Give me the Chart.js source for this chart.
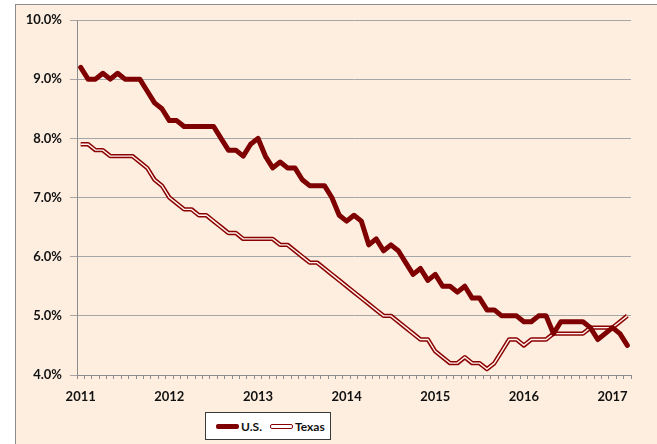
<!DOCTYPE html>
<html>
<head>
<meta charset="utf-8">
<script src="https://cdn.jsdelivr.net/npm/chart.js@4.4.0/dist/chart.umd.min.js"></script>
<style>
  body { margin: 0; background: #fff; }
  #frame {
    position: absolute; left: 15px; top: 4px; width: 660px; height: 460px;
    border: 1px solid #8c8c8c; background: #fdeee0;
  }
  #wrap { position: absolute; left: 0; top: 0; width: 657px; height: 444px; }
  #legend {
    position: absolute; left: 205px; top: 412px; width: 124px; height: 26px;
    border: 1px solid #3a3a3a; background: #fff;
    font: bold 12px Lato, sans-serif; color: #111;
    display: flex; align-items: center;
  }
  .sw { display: inline-block; width: 23px; box-sizing: border-box; margin-right: 2px; }
  .sw.us { height: 5px; background: #7f0000; border-radius: 2px; margin-left: 10px; }
  .sw.tx { height: 5px; background: #fff; border: 1.5px solid #8b0000; border-radius: 2px; margin-left: 8px; }
</style>
</head>
<body>
<div id="frame"></div>
<div id="wrap"><canvas id="unempChart" width="657" height="444"></canvas></div>
<div id="legend"></div>
<script>
// Monthly categories, Jan 2011 - Mar 2017
const years = ['2011', '2012', '2013', '2014', '2015', '2016', '2017'];
const categories = [];
years.forEach(function(y) {
    for (let m = 1; m <= 12; m++) {
        if (y === '2017' && m > 3) break;
        categories.push(y + '-' + String(m).padStart(2, '0'));
    }
});

// Unemployment rate (%)
const usValues = [
    9.2, 9.0, 9.0, 9.1, 9.0, 9.1, 9.0, 9.0, 9.0, 8.8, 8.6, 8.5,
    8.3, 8.3, 8.2, 8.2, 8.2, 8.2, 8.2, 8.0, 7.8, 7.8, 7.7, 7.9,
    8.0, 7.7, 7.5, 7.6, 7.5, 7.5, 7.3, 7.2, 7.2, 7.2, 7.0, 6.7,
    6.6, 6.7, 6.6, 6.2, 6.3, 6.1, 6.2, 6.1, 5.9, 5.7, 5.8, 5.6,
    5.7, 5.5, 5.5, 5.4, 5.5, 5.3, 5.3, 5.1, 5.1, 5.0, 5.0, 5.0,
    4.9, 4.9, 5.0, 5.0, 4.7, 4.9, 4.9, 4.9, 4.9, 4.8, 4.6, 4.7,
    4.8, 4.7, 4.5
];
const texasValues = [
    7.9, 7.9, 7.8, 7.8, 7.7, 7.7, 7.7, 7.7, 7.6, 7.5, 7.3, 7.2,
    7.0, 6.9, 6.8, 6.8, 6.7, 6.7, 6.6, 6.5, 6.4, 6.4, 6.3, 6.3,
    6.3, 6.3, 6.3, 6.2, 6.2, 6.1, 6.0, 5.9, 5.9, 5.8, 5.7, 5.6,
    5.5, 5.4, 5.3, 5.2, 5.1, 5.0, 5.0, 4.9, 4.8, 4.7, 4.6, 4.6,
    4.4, 4.3, 4.2, 4.2, 4.3, 4.2, 4.2, 4.1, 4.2, 4.4, 4.6, 4.6,
    4.5, 4.6, 4.6, 4.6, 4.7, 4.7, 4.7, 4.7, 4.7, 4.8, 4.8, 4.8,
    4.8, 4.9, 5.0
];
const yTicks = [4, 5, 6, 7, 8, 9, 10];

const darkRed = '#7f0000';
const labelFont = { family: 'Lato, sans-serif', size: 13, weight: 'bold' };

// HTML legend
document.getElementById('legend').innerHTML =
    '<span class="sw us"></span><span>U.S.</span>' +
    '<span class="sw tx"></span><span>Texas</span>';

const ctx = document.getElementById('unempChart').getContext('2d');
const chart = new Chart(ctx, {
    type: 'line',
    data: {
        labels: categories,
        datasets: [
            {
                label: 'U.S.',
                data: usValues,
                borderColor: darkRed,
                borderWidth: 5,
                pointRadius: 0,
                tension: 0,
                borderJoinStyle: 'round',
                borderCapStyle: 'round',
                order: 0
            },
            {
                // inner light stroke of the Texas double line
                label: 'Texas inner',
                data: texasValues,
                borderColor: '#fff4ee',
                borderWidth: 1.4,
                pointRadius: 0,
                tension: 0,
                order: 1
            },
            {
                label: 'Texas',
                data: texasValues,
                borderColor: '#8b0000',
                borderWidth: 4.4,
                pointRadius: 0,
                tension: 0,
                borderJoinStyle: 'round',
                order: 2
            }
        ]
    },
    options: {
        responsive: false,
        animation: false,
        layout: { padding: { top: 20, right: 26, bottom: 0, left: 0 } },
        plugins: {
            legend: { display: false },
            tooltip: { enabled: false }
        },
        scales: {
            x: {
                type: 'category',
                offset: true,
                grid: {
                    display: true,
                    drawOnChartArea: false,
                    drawTicks: true,
                    tickLength: 4,
                    color: '#8c8c8c',
                    offset: true
                },
                border: { color: '#8c8c8c', width: 1 },
                ticks: {
                    autoSkip: false,
                    maxRotation: 0,
                    padding: 10,
                    color: '#111',
                    font: labelFont,
                    callback: function(value, index) {
                        return index % 12 === 0 ? years[index / 12] : '';
                    }
                },
                afterFit: function(scale) { scale.height = 69; }
            },
            y: {
                min: 4,
                max: 10,
                afterBuildTicks: function(scale) {
                    scale.ticks = yTicks.map(function(v) { return { value: v }; });
                },
                grid: {
                    color: '#a6a6a6',
                    lineWidth: 1,
                    tickLength: 7
                },
                border: { color: '#8c8c8c', width: 1 },
                ticks: {
                    padding: 8,
                    color: '#111',
                    font: labelFont,
                    callback: function(value) { return value.toFixed(1) + '%'; }
                },
                afterFit: function(scale) { scale.width = 77; }
            }
        }
    }
});
</script>
</body>
</html>
